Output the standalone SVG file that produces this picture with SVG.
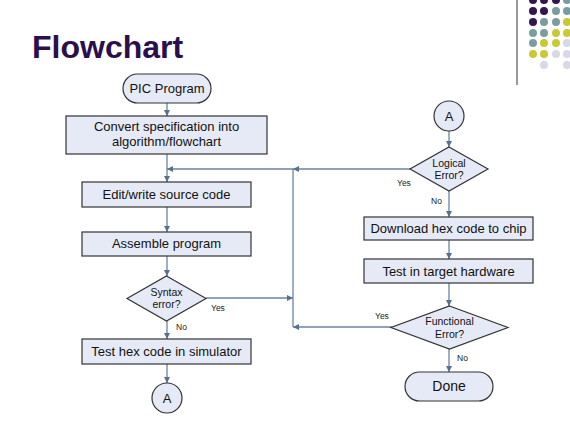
<svg xmlns="http://www.w3.org/2000/svg" width="570" height="435" viewBox="0 0 570 435">
<style>
  .box{fill:#e6eaf6;stroke:#333;stroke-width:1.2}
  .t{font-family:"Liberation Sans",Arial,sans-serif;fill:#111;text-anchor:middle}
  .m{font-size:13px}
  .s{font-size:10.5px}
  .lbl{font-family:"Liberation Sans",Arial,sans-serif;font-size:8.5px;fill:#222}
  .c{fill:none;stroke:#6a84a0;stroke-width:1.3}
  .title{font-family:"Liberation Sans",Arial,sans-serif;font-size:32px;font-weight:bold;fill:#2a0f4c}
</style>
<defs>
  <marker id="ah" viewBox="0 0 10 10" refX="10" refY="5" markerWidth="6" markerHeight="6" markerUnits="userSpaceOnUse" orient="auto">
    <path d="M0,0 L10,5 L0,10 z" fill="#56708e"/>
  </marker>
</defs>
<rect width="570" height="435" fill="#ffffff"/>
<g id="decor">
  <line x1="517" y1="0" x2="517" y2="85" stroke="#999" stroke-width="2"/>
  <g>
    <circle cx="533" cy="0" r="4" fill="#33154f"/><circle cx="544" cy="0" r="4" fill="#33154f"/><circle cx="556" cy="0" r="4" fill="#33154f"/><circle cx="567" cy="0" r="4" fill="#7a9ea0"/>
    <circle cx="533" cy="11" r="4" fill="#33154f"/><circle cx="544" cy="11" r="4" fill="#33154f"/><circle cx="556" cy="11" r="4" fill="#7a9ea0"/><circle cx="567" cy="11" r="4" fill="#7a9ea0"/>
    <circle cx="533" cy="22" r="4" fill="#33154f"/><circle cx="544" cy="22" r="4" fill="#7a9ea0"/><circle cx="556" cy="22" r="4" fill="#7a9ea0"/><circle cx="567" cy="22" r="4" fill="#c9c935"/>
    <circle cx="533" cy="33" r="4" fill="#7a9ea0"/><circle cx="544" cy="33" r="4" fill="#7a9ea0"/><circle cx="556" cy="33" r="4" fill="#c9c935"/><circle cx="567" cy="33" r="4" fill="#c9c935"/>
    <circle cx="533" cy="43" r="4" fill="#7a9ea0"/><circle cx="544" cy="43" r="4" fill="#c9c935"/><circle cx="556" cy="43" r="4" fill="#c9c935"/><circle cx="567" cy="43" r="4" fill="#d8d8e6"/>
    <circle cx="533" cy="54" r="4" fill="#c9c935"/><circle cx="544" cy="54" r="4" fill="#c9c935"/><circle cx="556" cy="54" r="4" fill="#d8d8e6"/><circle cx="567" cy="54" r="4" fill="#d8d8e6"/>
    <circle cx="544" cy="65" r="4" fill="#d8d8e6"/><circle cx="567" cy="65" r="4" fill="#d8d8e6"/>
  </g>
</g>
<text class="title" x="32" y="58">Flowchart</text>

<g id="connectors">
  <line class="c" x1="167" y1="103" x2="167" y2="116" marker-end="url(#ah)"/>
  <line class="c" x1="167" y1="154" x2="167" y2="182" marker-end="url(#ah)"/>
  <line class="c" x1="167" y1="207" x2="167" y2="232" marker-end="url(#ah)"/>
  <line class="c" x1="167" y1="256" x2="167" y2="276" marker-end="url(#ah)"/>
  <line class="c" x1="167" y1="321" x2="167" y2="339" marker-end="url(#ah)"/>
  <line class="c" x1="167" y1="364" x2="167" y2="383" marker-end="url(#ah)"/>
  <line class="c" x1="206" y1="298" x2="293" y2="298" marker-end="url(#ah)"/>
  <line class="c" x1="293" y1="327" x2="293" y2="169"/>
  <line class="c" x1="293" y1="169" x2="167" y2="169" marker-end="url(#ah)"/>
  <line class="c" x1="410" y1="169" x2="293" y2="169" marker-end="url(#ah)"/>
  <line class="c" x1="392" y1="327" x2="293" y2="327" marker-end="url(#ah)"/>
  <line class="c" x1="449" y1="131" x2="449" y2="147" marker-end="url(#ah)"/>
  <line class="c" x1="449" y1="191" x2="449" y2="217" marker-end="url(#ah)"/>
  <line class="c" x1="449" y1="240" x2="449" y2="259" marker-end="url(#ah)"/>
  <line class="c" x1="449" y1="283" x2="449" y2="306" marker-end="url(#ah)"/>
  <line class="c" x1="449" y1="349" x2="449" y2="372" marker-end="url(#ah)"/>
  <text class="lbl" x="211" y="311">Yes</text>
  <text class="lbl" x="176" y="330">No</text>
  <text class="lbl" x="397" y="186">Yes</text>
  <text class="lbl" x="431" y="204">No</text>
  <text class="lbl" x="375" y="319">Yes</text>
  <text class="lbl" x="457" y="361">No</text>
</g>

<g id="n-pic"><rect class="box" x="123" y="74" width="88" height="29" rx="14.5"/><text class="t m" x="167" y="93">PIC Program</text></g>
<g id="n-convert"><rect class="box" x="66" y="116" width="201" height="38"/><text class="t m" x="166.5" y="131">Convert specification into</text><text class="t m" x="166.5" y="146">algorithm/flowchart</text></g>
<g id="n-edit"><rect class="box" x="82" y="182" width="169" height="25"/><text class="t m" x="166.5" y="199">Edit/write source code</text></g>
<g id="n-assemble"><rect class="box" x="82" y="232" width="169" height="24"/><text class="t m" x="166.5" y="248">Assemble program</text></g>
<g id="n-syntax"><polygon class="box" points="166.5,276 206,298.5 166.5,321 127,298.5"/><text class="t s" x="166.5" y="295.5">Syntax</text><text class="t s" x="166.5" y="307.5">error?</text></g>
<g id="n-testsim"><rect class="box" x="82" y="339" width="169" height="25"/><text class="t m" x="166.5" y="356">Test hex code in simulator</text></g>
<g id="n-a1"><circle class="box" cx="167" cy="398" r="15"/><text class="t m" x="167" y="403">A</text></g>
<g id="n-a2"><circle class="box" cx="449" cy="116" r="15"/><text class="t m" x="449" y="121">A</text></g>
<g id="n-logical"><polygon class="box" points="449,147 488,169 449,191 410,169"/><text class="t s" x="449" y="166.5">Logical</text><text class="t s" x="449" y="178.5">Error?</text></g>
<g id="n-download"><rect class="box" x="364" y="217" width="169" height="23"/><text class="t m" x="448.5" y="233">Download hex code to chip</text></g>
<g id="n-testhw"><rect class="box" x="364" y="259" width="169" height="24"/><text class="t m" x="448.5" y="276">Test in target hardware</text></g>
<g id="n-functional"><polygon class="box" points="449.5,306 508,327.5 449.5,349 391,327.5"/><text class="t s" x="449.5" y="324.5">Functional</text><text class="t s" x="449.5" y="337.5">Error?</text></g>
<g id="n-done"><rect class="box" x="405" y="372" width="88" height="29" rx="14.5"/><text class="t" style="font-size:14px" x="449" y="391">Done</text></g>
</svg>
